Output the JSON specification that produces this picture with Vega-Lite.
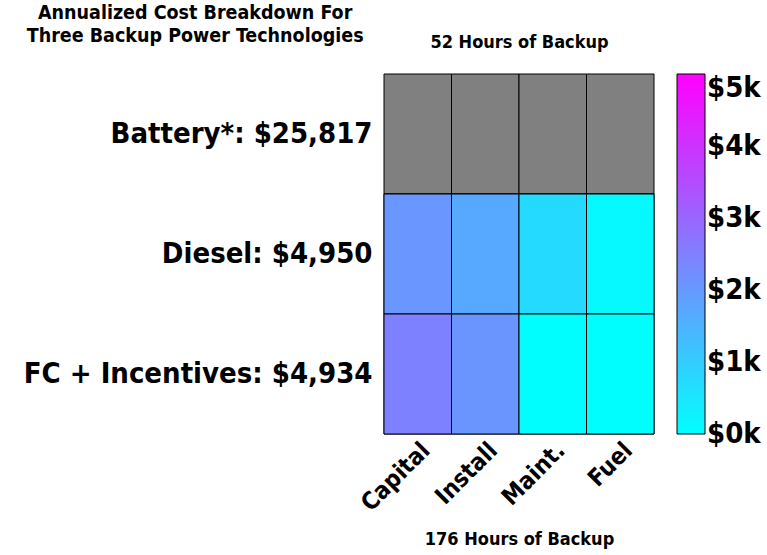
{
  "$schema": "https://vega.github.io/schema/vega-lite/v6.json",
  "width": 270,
  "height": 360,
  "autosize": "none",
  "padding": {"left": 384, "top": 74, "right": 113, "bottom": 121},
  "background": "white",
  "title": {
    "text": ["Annualized Cost Breakdown For", "Three Backup Power Technologies"],
    "anchor": "start",
    "frame": "bounds",
    "align": "center",
    "dx": 172,
    "offset": -13,
    "fontSize": 19.5,
    "fontWeight": "bold",
    "color": "black",
    "lineHeight": 23
  },
  "config": {
    "view": {"stroke": null},
    "font": "DejaVu Sans Condensed, Liberation Sans, sans-serif"
  },
  "data": {
    "values": [
      {"tech": "Battery*: $25,817", "cost": "Capital", "value": null},
      {"tech": "Battery*: $25,817", "cost": "Install", "value": null},
      {"tech": "Battery*: $25,817", "cost": "Maint.", "value": null},
      {"tech": "Battery*: $25,817", "cost": "Fuel", "value": null},
      {"tech": "Diesel: $4,950", "cost": "Capital", "value": 2050},
      {"tech": "Diesel: $4,950", "cost": "Install", "value": 1680},
      {"tech": "Diesel: $4,950", "cost": "Maint.", "value": 700},
      {"tech": "Diesel: $4,950", "cost": "Fuel", "value": 120},
      {"tech": "FC + Incentives: $4,934", "cost": "Capital", "value": 2480},
      {"tech": "FC + Incentives: $4,934", "cost": "Install", "value": 2080},
      {"tech": "FC + Incentives: $4,934", "cost": "Maint.", "value": 20},
      {"tech": "FC + Incentives: $4,934", "cost": "Fuel", "value": 10}
    ]
  },
  "encoding": {
    "y": {
      "field": "tech", "type": "nominal",
      "sort": ["Battery*: $25,817", "Diesel: $4,950", "FC + Incentives: $4,934"],
      "axis": {
        "title": null,
        "labelFontSize": 29,
        "labelFontWeight": "bold",
        "labelColor": "black",
        "labelPadding": 12,
        "labelLimit": 500,
        "ticks": false,
        "domain": false
      }
    }
  },
  "layer": [
    {
      "mark": {"type": "rect", "fill": "#808080", "stroke": "black", "strokeWidth": 1},
      "encoding": {
        "x": {
          "field": "cost", "type": "nominal",
          "sort": ["Capital", "Install", "Maint.", "Fuel"],
          "axis": {
            "orient": "bottom",
            "labelAngle": -45,
            "labelFontSize": 24,
            "labelFontWeight": "bold",
            "labelColor": "black",
            "labelPadding": 4,
            "ticks": false,
            "domain": false,
            "title": "176 Hours of Backup",
            "titleFontSize": 18,
            "titleFontWeight": "bold",
            "titleColor": "black",
            "titlePadding": 15
          }
        }
      }
    },
    {
      "transform": [{"filter": "isValid(datum.value)"}],
      "mark": {"type": "rect", "stroke": "black", "strokeWidth": 1},
      "encoding": {
        "x": {
          "field": "cost", "type": "nominal",
          "sort": ["Capital", "Install", "Maint.", "Fuel"],
          "axis": {
            "orient": "top",
            "labels": false,
            "ticks": false,
            "domain": false,
            "title": "52 Hours of Backup",
            "titleFontSize": 18,
            "titleFontWeight": "bold",
            "titleColor": "black",
            "titlePadding": 23
          }
        },
        "color": {
          "field": "value", "type": "quantitative",
          "scale": {"domain": [0, 5000], "range": ["#00ffff", "#ff00ff"], "interpolate": "rgb"},
          "legend": {
            "title": null,
            "offset": 23,
            "padding": 0,
            "direction": "vertical",
            "gradientLength": 360,
            "gradientThickness": 28,
            "gradientStrokeColor": "black",
            "gradientStrokeWidth": 1,
            "values": [0, 1000, 2000, 3000, 4000, 5000],
            "labelExpr": "'$' + round(datum.value / 1000) + 'k'",
            "labelFontSize": 29,
            "labelFontWeight": "bold",
            "labelColor": "black",
            "labelOffset": 2,
            "encode": {
              "labels": {
                "update": {
                  "baseline": {"signal": "datum.value >= 5000 ? 'top' : 'middle'"}
                }
              }
            }
          }
        }
      }
    }
  ],
  "resolve": {"axis": {"x": "independent"}}
}
